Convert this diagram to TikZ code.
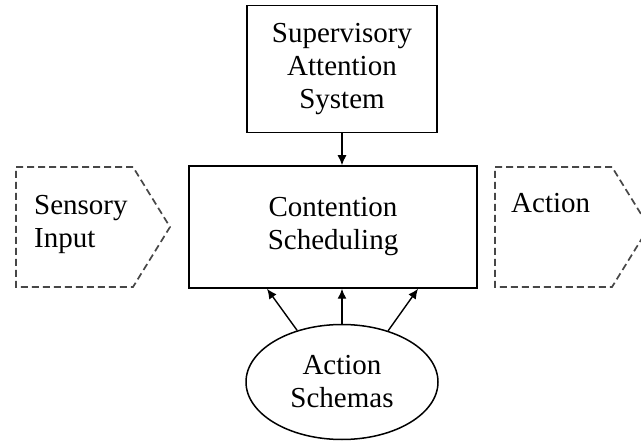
\documentclass[tikz,border=0pt]{standalone}
\usepackage{fontspec}
\setmainfont{Liberation Serif}
\usetikzlibrary{arrows.meta,shapes.geometric,calc}
\begin{document}
\begin{tikzpicture}[x=1pt,y=-1pt,>={Latex[length=10pt,width=9pt]},
        box/.style={draw,line width=1.5pt,align=center,font=\fontsize{29}{33}\selectfont},
        pent/.style={draw=black!72,line width=1.7pt,dash pattern=on 7pt off 4pt},
        lbl/.style={inner sep=0pt,align=left,anchor=north west,font=\fontsize{29}{33}\selectfont}]
        \clip (0,0) rectangle (641,441);
        \node[box,minimum width=190pt,minimum height=127pt] (sas) at (342,69) {Supervisory\\Attention\\System};
        \node[box,minimum width=288pt,minimum height=122pt] (cs) at (333,227) {Contention\\Scheduling};
        \node[box,ellipse,minimum width=192pt,minimum height=115pt] (as) at (342,382) {Action\\Schemas};
        \draw[pent] (16,167) -- (133,167) -- (170,227) -- (133,287) -- (16,287) -- cycle;
        \draw[pent] (495,167) -- (612,167) -- (649,227) -- (612,287) -- (495,287) -- cycle;
        \node[lbl] (sens) at (34,195) {Sensory\\Input};
        \node[lbl] (act) at (511,193) {Action};
        \draw[->,line width=1.4pt] (sas) -- (sas |- cs.north);
        \draw[->,line width=1.4pt] (as) -- (as |- cs.south);
        \draw[->,line width=1.4pt] (as.131) -- ($(as |- cs.south)+(-75,0)$);
        \draw[->,line width=1.4pt] (as.48) -- ($(as |- cs.south)+(76,0)$);
\end{tikzpicture}
\end{document}
